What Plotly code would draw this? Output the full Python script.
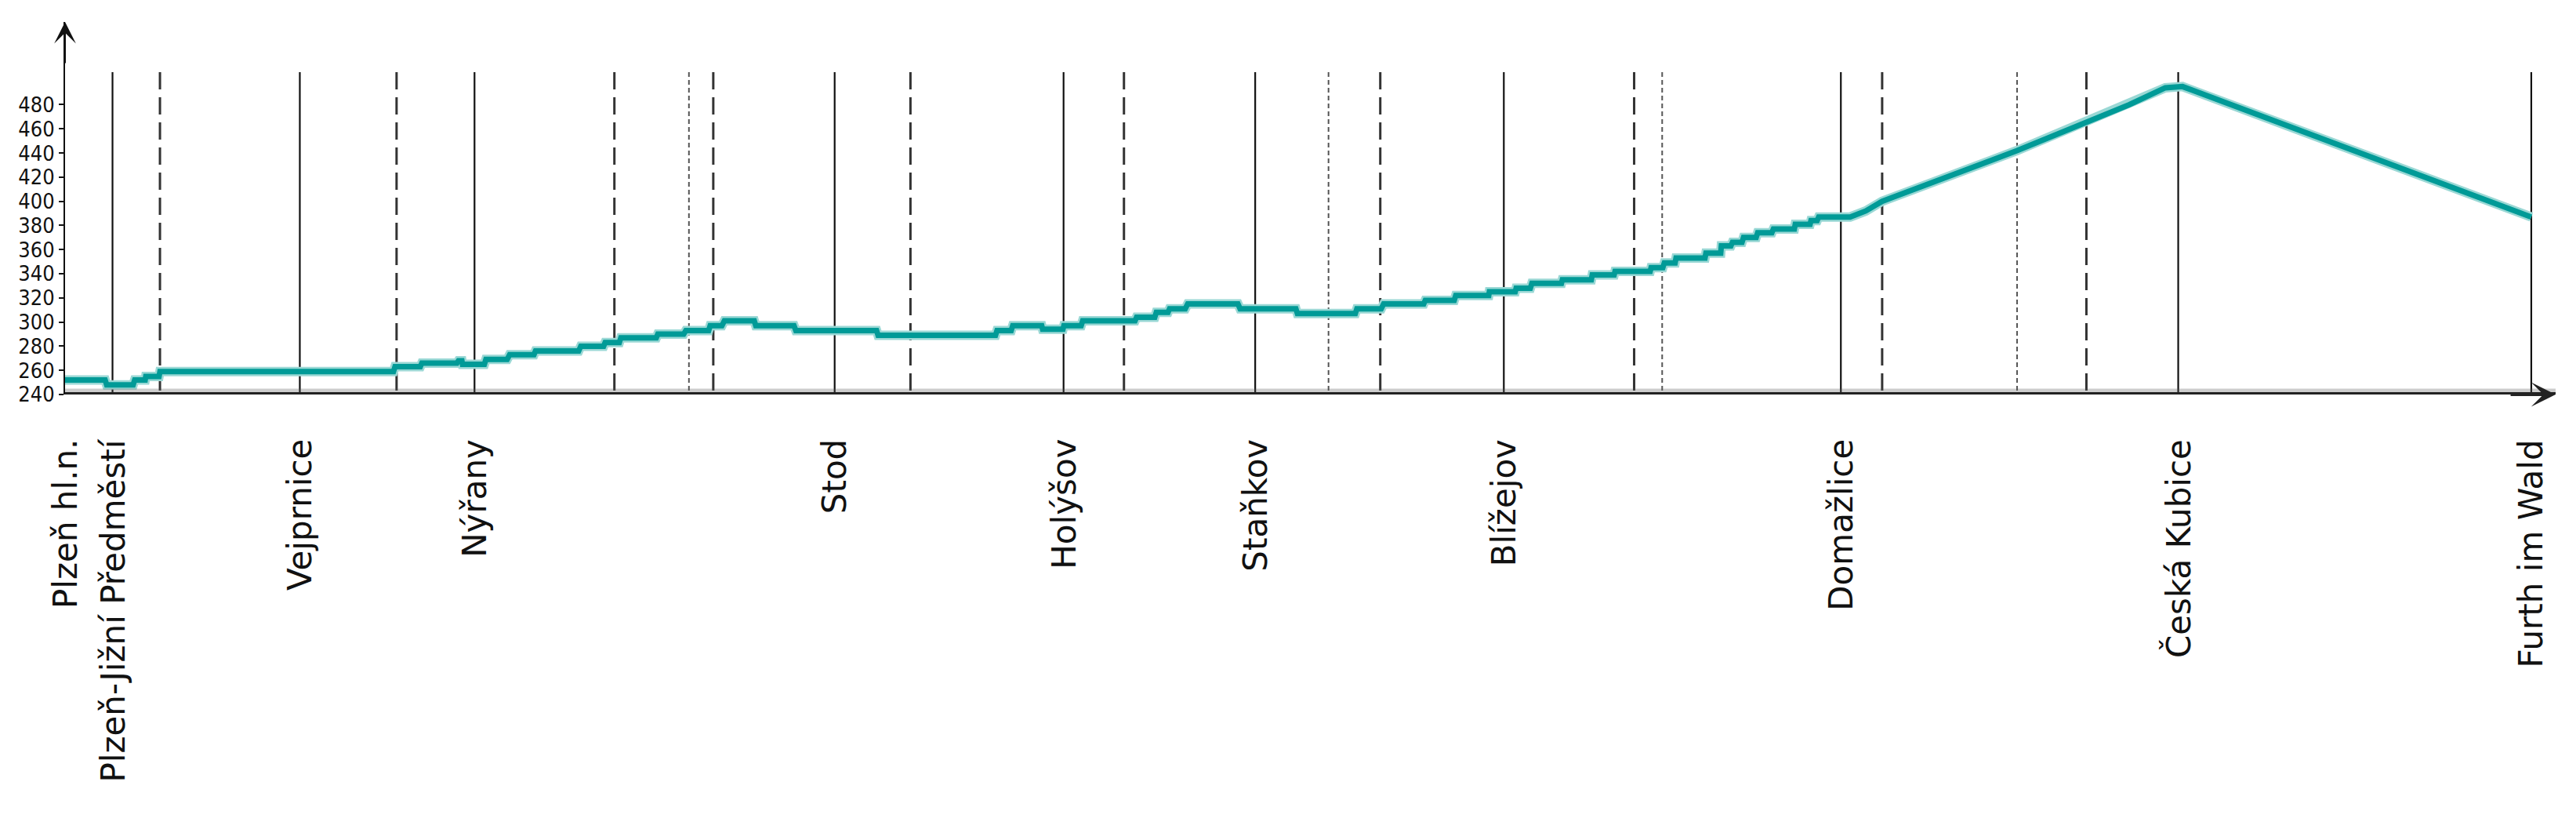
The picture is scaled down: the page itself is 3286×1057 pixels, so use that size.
import plotly.graph_objects as go

# ---------------- data ----------------
stations = ["Plzeň hl.n.", "Plzeň-Jižní Předměstí", "Vejprnice", "Nýřany", "Stod",
            "Holýšov", "Staňkov", "Blížejov", "Domažlice", "Česká Kubice", "Furth im Wald"]
station_km = [0.00, 1.54, 7.62, 13.29, 24.98, 32.41, 38.63, 46.70, 57.64, 68.59, 80.05]
dashed_km = [3.08, 10.76, 17.83, 21.04, 27.44, 34.37, 42.69, 50.93, 58.98, 65.61]
dotted_km = [20.25, 41.01, 51.84, 63.36]

profile_km = [0.00, 1.30, 1.35, 2.21, 2.26, 2.60, 2.62, 3.05, 3.08, 10.66, 10.71, 11.53,
              11.58, 12.72, 12.77, 12.88, 12.90, 13.61, 13.66, 14.35, 14.43, 15.22, 15.27,
              16.67, 16.74, 17.48, 17.53, 17.99, 18.04, 19.19, 19.24, 20.08, 20.15, 20.89,
              20.94, 21.32, 21.40, 22.37, 22.42, 23.66, 23.72, 26.34, 26.39, 30.20, 30.25,
              30.71, 30.76, 31.70, 31.73, 32.39, 32.42, 32.98, 33.03, 34.73, 34.78, 35.37,
              35.42, 35.80, 35.85, 36.36, 36.44, 38.07, 38.14, 39.95, 40.00, 41.88, 41.93,
              42.72, 42.80, 44.10, 44.15, 45.09, 45.14, 46.21, 46.23, 47.07, 47.10, 47.56,
              47.61, 48.57, 48.60, 49.54, 49.57, 50.28, 50.31, 51.45, 51.48, 51.86, 51.91,
              52.26, 52.29, 53.23, 53.26, 53.74, 53.76, 54.07, 54.12, 54.43, 54.48, 54.89,
              54.94, 55.40, 55.45, 56.13, 56.16, 56.64, 56.67, 56.87, 56.92, 57.94, 58.45,
              58.98, 63.36, 65.62, 67.00, 68.17, 68.73, 80.05]
profile_elev = [252, 252, 248, 248, 252, 252, 255, 255, 259, 259, 263, 263,
                266, 266, 268, 268, 265, 265, 269, 269, 273, 273, 276,
                276, 280, 280, 283, 283, 287, 287, 290, 290, 293, 293,
                297, 297, 301, 301, 297, 297, 293, 293, 289, 289, 293,
                293, 297, 297, 294, 294, 297, 297, 301, 301, 304, 304,
                308, 308, 311, 311, 315, 315, 311, 311, 307, 307, 311,
                311, 315, 315, 318, 318, 322, 322, 325, 325, 328, 328,
                332, 332, 335, 335, 339, 339, 342, 342, 345, 345, 349,
                349, 353, 353, 357, 357, 363, 363, 366, 366, 370, 370,
                374, 374, 377, 377, 381, 381, 384, 384, 387, 387, 392,
                400, 442, 466, 480, 494, 495, 387]

y_ticks = [240, 260, 280, 300, 320, 340, 360, 380, 400, 420, 440, 460, 480]

# ---------------- layout constants ----------------
Y_MIN, Y_TOP = 240, 548.5
X_END = 80.84
LINE_TOP = 507.0


def vlines(xs):
    xx, yy = [], []
    for k in xs:
        xx += [k, k, None]
        yy += [LINE_TOP, Y_MIN, None]
    return xx, yy


fig = go.Figure()

sx, sy = vlines(station_km[1:])
fig.add_trace(go.Scatter(x=sx, y=sy, mode="lines", hoverinfo="skip",
                         line=dict(color="#111111", width=2.2), showlegend=False))
dx, dy = vlines(dashed_km)
fig.add_trace(go.Scatter(x=dx, y=dy, mode="lines", hoverinfo="skip",
                         line=dict(color="#333333", width=3, dash="22px,10px"), showlegend=False))
ox, oy = vlines(dotted_km)
fig.add_trace(go.Scatter(x=ox, y=oy, mode="lines", hoverinfo="skip",
                         line=dict(color="#555555", width=2, dash="6px,4px"), showlegend=False))

# elevation profile
fig.add_trace(go.Scatter(x=profile_km, y=profile_elev, mode="lines", hoverinfo="skip",
                         line=dict(color="#9ad8d5", width=12), showlegend=False))
fig.add_trace(go.Scatter(x=profile_km, y=profile_elev, mode="lines",
                         line=dict(color="#009a97", width=7), showlegend=False,
                         name="Nadmořská výška"))

annotations = []
for name, km in zip(stations, station_km):
    annotations.append(dict(x=km, xref="x", y=-0.1158, yref="paper", text=name,
                            showarrow=False, textangle=-90, xanchor="center", yanchor="top",
                            font=dict(family="DejaVu Sans", size=42, color="#111111")))

# axis arrows
annotations.append(dict(x=0, y=Y_TOP, xref="x", yref="y", ax=0, ay=Y_TOP - 35,
                        axref="x", ayref="y", text="", showarrow=True, arrowhead=3,
                        arrowsize=2.3, arrowwidth=2, arrowcolor="#111111"))
annotations.append(dict(x=X_END, y=Y_MIN, xref="x", yref="y", ax=X_END - 1.5, ay=Y_MIN,
                        axref="x", ayref="y", text="", showarrow=True, arrowhead=3,
                        arrowsize=1.3, arrowwidth=4, arrowcolor="#222222"))

shapes = [
    dict(type="line", xref="x", yref="y", x0=0, x1=X_END, y0=Y_MIN, y1=Y_MIN,
         line=dict(color="rgba(90,90,90,0.3)", width=15), layer="above"),
    dict(type="line", xref="x", yref="y", x0=0, x1=X_END, y0=Y_MIN, y1=Y_MIN,
         line=dict(color="#222222", width=6), layer="above"),
]

fig.update_layout(
    width=3286, height=1057,
    margin=dict(l=83, r=26, t=28, b=554, pad=0),
    paper_bgcolor="white", plot_bgcolor="white",
    xaxis=dict(range=[0, X_END], showline=False, showgrid=False, zeroline=False,
               showticklabels=False, ticks=""),
    yaxis=dict(range=[Y_MIN, Y_TOP], showline=True, linecolor="#111111", linewidth=2,
               showgrid=False, zeroline=False, ticks="outside", ticklen=6, tickwidth=2,
               tickcolor="#111111", tickvals=y_ticks, ticktext=[str(v) for v in y_ticks],
               tickfont=dict(family="Liberation Sans Narrow, DejaVu Sans Condensed, Liberation Sans",
                             size=27, color="#111111")),
    annotations=annotations,
    shapes=shapes,
    showlegend=False,
)

fig.write_html("out.html", config={"displayModeBar": False},
               post_script="document.body.style.margin='0px';")
